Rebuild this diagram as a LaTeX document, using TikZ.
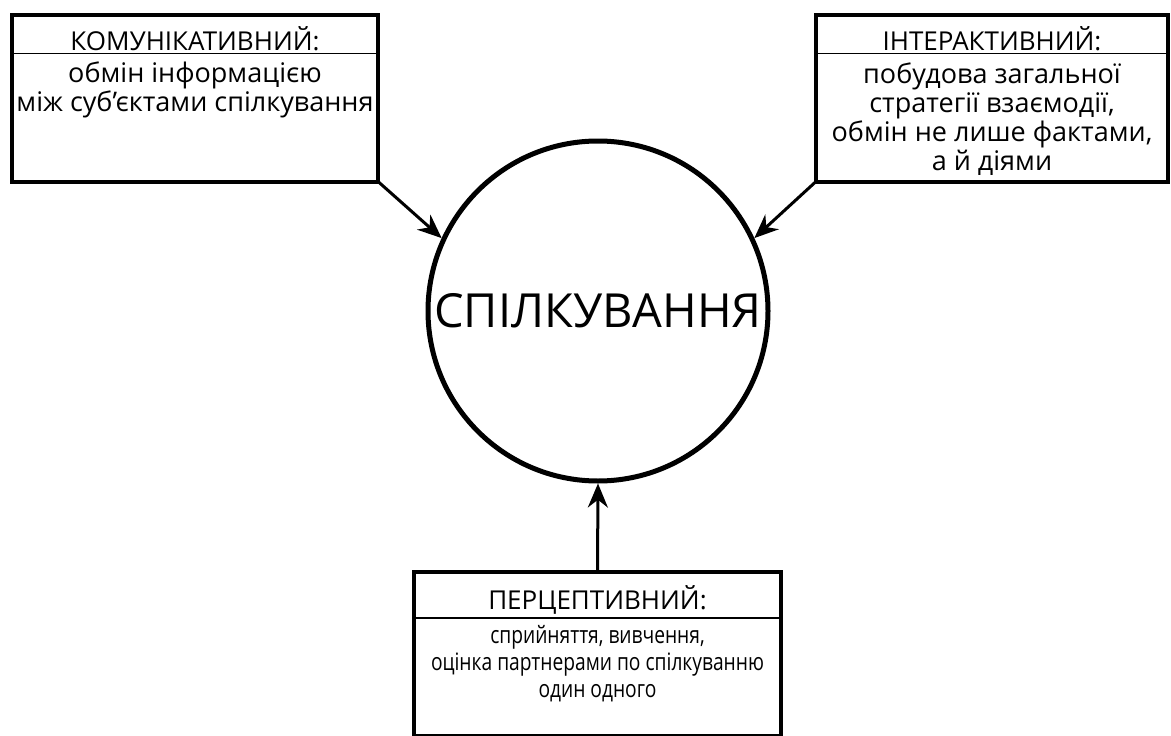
\documentclass[tikz,border=0pt]{standalone}
\usepackage{fontspec}
\setmainfont{Open Sans}
\newfontfamily\narrowfont[FakeStretch=0.8]{Open Sans}
\usetikzlibrary{arrows.meta,positioning}

\tikzset{
  typebox/.style={draw, line width=4pt, inner sep=0pt, outer sep=0pt},
  divider/.style={line width=1.2pt},
  headtext/.style={anchor=base, inner sep=0pt, font=\fontsize{26}{29}\selectfont},
  bodytext/.style={anchor=base, inner sep=0pt, align=center, font=\fontsize{27}{29}\selectfont},
  arr/.style={-{Stealth[length=24pt,width=20pt]}, line width=3pt}
}

\begin{document}
\begin{tikzpicture}[x=1pt, y=-1pt]
\useasboundingbox (0,0) rectangle (1171,736);
% центральне коло
\node[circle, draw, line width=5pt, minimum size=340pt, inner sep=0pt,
      font=\fontsize{47}{55}\selectfont] (circ) at (598,311) {СПІЛКУВАННЯ};

% комунікативний
\node[typebox, minimum width=366pt, minimum height=167pt] (kom) at (195,98) {};
\draw[divider] ([yshift=-39pt]kom.north west) -- ([yshift=-39pt]kom.north east);
\node[headtext] (komhead) at (195,50) {КОМУНІКАТИВНИЙ:};
\node[bodytext] (kombody) at (195,111) {обмін інформацією\\між суб’єктами спілкування};

% інтерактивний
\node[typebox, minimum width=352pt, minimum height=167pt] (inter) at (992,98) {};
\draw[divider] ([yshift=-39pt]inter.north west) -- ([yshift=-39pt]inter.north east);
\node[headtext] (interhead) at (992,50) {ІНТЕРАКТИВНИЙ:};
\node[bodytext] (interbody) at (992,170) {побудова загальної\\стратегії взаємодії,\\обмін не лише фактами,\\а й діями};

% перцептивний
\node[typebox, minimum width=367pt, minimum height=164pt] (perc) at (597.5,654) {};
\draw[divider] ([yshift=-46pt]perc.north west) -- ([yshift=-46pt]perc.north east);
\node[headtext] (perchead) at (597.5,609) {ПЕРЦЕПТИВНИЙ:};
\node[bodytext, font=\narrowfont\fontsize{24}{27}\selectfont] (percbody) at (597.5,697)
  {сприйняття, вивчення,\\оцінка партнерами по спілкуванню\\один одного};

% стрілки
\draw[arr] (kom.south east) -- (circ.155);
\draw[arr] (inter.south west) -- (circ.25);
\draw[arr] (perc.north) -- (circ.south);
\end{tikzpicture}
\end{document}
